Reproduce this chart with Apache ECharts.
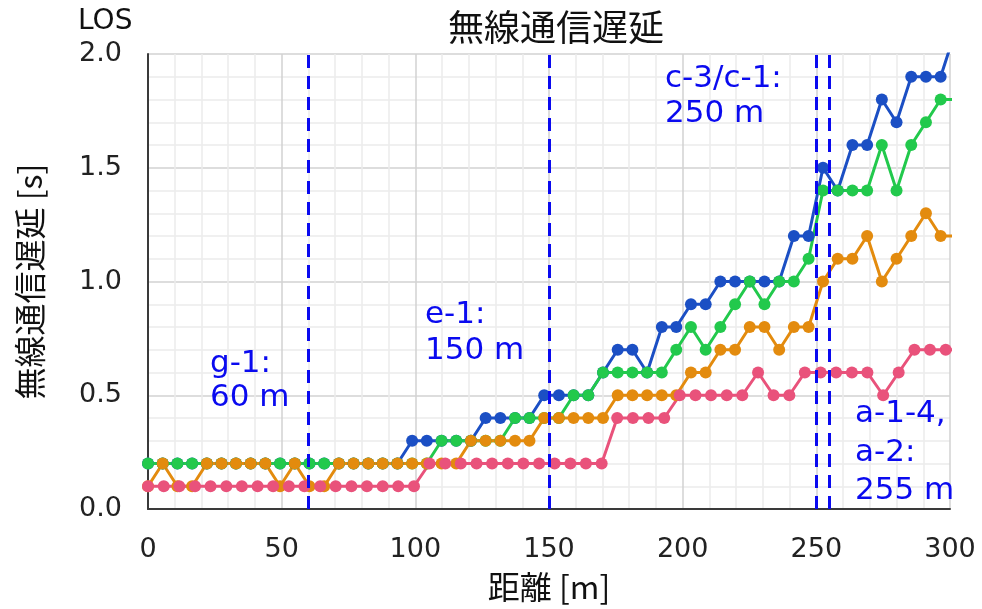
<!DOCTYPE html>
<html>
<head>
<meta charset="utf-8">
<script src="https://cdn.jsdelivr.net/npm/echarts@6/dist/echarts.min.js"></script>
<style>
  html, body { margin: 0; padding: 0; background: #ffffff; }
  #chart { width: 982px; height: 609px; }
</style>
</head>
<body>
<div id="chart"></div>
<script>
// Sample distances [m] shared by the blue, green and orange runs
const distance = [0, 5.5, 11.0, 16.5, 22.0, 27.5, 32.9, 38.4, 43.9, 49.4, 54.9, 60.4, 65.9, 71.4,
  76.9, 82.4, 87.8, 93.3, 98.8, 104.3, 109.8, 115.3, 120.8, 126.3, 131.8, 137.3, 142.7, 148.2,
  153.7, 159.2, 164.7, 170.2, 175.7, 181.2, 186.7, 192.2, 197.6, 203.1, 208.6, 214.1, 219.6,
  225.1, 230.6, 236.1, 241.6, 247.1, 252.5, 258.0, 263.5, 269.0, 274.5, 280.0, 285.5, 291.0,
  296.5, 302.0];
// Sample distances [m] of the pink run
const distancePink = [0, 5.9, 11.7, 17.6, 23.4, 29.3, 35.1, 41.0, 46.8, 52.7, 58.5, 64.4, 70.2,
  76.1, 81.9, 87.8, 93.6, 99.5, 105.3, 111.2, 117.0, 122.9, 128.7, 134.6, 140.4, 146.3, 152.1,
  158.0, 163.8, 169.7, 175.5, 181.4, 187.2, 193.1, 198.9, 204.8, 210.6, 216.5, 222.3, 228.2,
  234.0, 239.9, 245.7, 251.6, 257.4, 263.3, 269.1, 275.0, 280.8, 286.7, 292.5, 298.4, 304.2];

// Wireless delay [s]
const delayBlue = [0.2, 0.2, 0.2, 0.2, 0.2, 0.2, 0.2, 0.2, 0.2, 0.2, 0.2, 0.2, 0.2, 0.2, 0.2, 0.2,
  0.2, 0.2, 0.3, 0.3, 0.3, 0.3, 0.3, 0.4, 0.4, 0.4, 0.4, 0.5, 0.5, 0.5, 0.5, 0.6, 0.7, 0.7, 0.6,
  0.8, 0.8, 0.9, 0.9, 1.0, 1.0, 1.0, 1.0, 1.0, 1.2, 1.2, 1.5, 1.4, 1.6, 1.6, 1.8, 1.7, 1.9, 1.9,
  1.9, 2.1];
const delayGreen = [0.2, 0.2, 0.2, 0.2, 0.2, 0.2, 0.2, 0.2, 0.2, 0.2, 0.2, 0.2, 0.2, 0.2, 0.2, 0.2,
  0.2, 0.2, 0.2, 0.2, 0.3, 0.3, 0.3, 0.3, 0.3, 0.4, 0.4, 0.4, 0.4, 0.5, 0.5, 0.6, 0.6, 0.6, 0.6,
  0.6, 0.7, 0.8, 0.7, 0.8, 0.9, 1.0, 0.9, 1.0, 1.0, 1.1, 1.4, 1.4, 1.4, 1.4, 1.6, 1.4, 1.6, 1.7,
  1.8, 1.8];
const delayOrange = [0.1, 0.2, 0.1, 0.1, 0.2, 0.2, 0.2, 0.2, 0.2, 0.1, 0.2, 0.1, 0.1, 0.2, 0.2, 0.2,
  0.2, 0.2, 0.2, 0.2, 0.2, 0.2, 0.3, 0.3, 0.3, 0.3, 0.3, 0.4, 0.4, 0.4, 0.4, 0.4, 0.5, 0.5, 0.5,
  0.5, 0.5, 0.6, 0.6, 0.7, 0.7, 0.8, 0.8, 0.7, 0.8, 0.8, 1.0, 1.1, 1.1, 1.2, 1.0, 1.1, 1.2, 1.3,
  1.2, 1.2];
const delayPink = [0.1, 0.1, 0.1, 0.1, 0.1, 0.1, 0.1, 0.1, 0.1, 0.1, 0.1, 0.1, 0.1, 0.1, 0.1, 0.1,
  0.1, 0.1, 0.2, 0.2, 0.2, 0.2, 0.2, 0.2, 0.2, 0.2, 0.2, 0.2, 0.2, 0.2, 0.4, 0.4, 0.4, 0.4, 0.5,
  0.5, 0.5, 0.5, 0.5, 0.6, 0.5, 0.5, 0.6, 0.6, 0.6, 0.6, 0.6, 0.5, 0.6, 0.7, 0.7, 0.7, 0.7];

// Reference positions marked with dashed lines [m]
const markerDistances = [60, 150, 250, 255];
const markerLabels = [
  ['g-1:', '60 m'],
  ['e-1:', '150 m'],
  ['c-3/c-1:', '250 m'],
  ['a-1-4,', 'a-2:', '255 m']
];

const yTicks = ['0.0', '0.5', '1.0', '1.5', '2.0'];

const LATIN = '"DejaVu Sans", Verdana, sans-serif';
const CJK = '"Noto Sans CJK JP", sans-serif';
const MARK_BLUE = '#0a0aef';

function pairs(xs, ys) {
  return ys.map((v, i) => [xs[i], v]);
}

function lineSeries(name, color, xs, ys) {
  return {
    name: name,
    type: 'line',
    data: pairs(xs, ys),
    symbol: 'circle',
    symbolSize: 12,
    showSymbol: true,
    clip: true,
    lineStyle: { color: color, width: 3 },
    itemStyle: { color: color },
    emphasis: { disabled: true }
  };
}

const chart = echarts.init(document.getElementById('chart'), null, { renderer: 'canvas' });

// Label text blocks: left x and the vertical centre of each line (pixels)
const labelLayout = [
  { left: 210, lines: [367, 401] },
  { left: 425, lines: [318, 354] },
  { left: 665, lines: [82, 117] },
  { left: 855, lines: [417, 456, 494] }
];
const labelGraphics = [];
markerLabels.forEach((lines, k) => {
  lines.forEach((t, j) => {
    labelGraphics.push({
      type: 'text',
      left: labelLayout[k].left,
      top: labelLayout[k].lines[j] - 19,
      z: 100,
      style: {
        text: t,
        font: '31px ' + LATIN,
        fill: MARK_BLUE,
        textVerticalAlign: 'top'
      }
    });
  });
});

const option = {
  animation: false,
  backgroundColor: '#ffffff',
  title: {
    text: '無線通信遅延',
    left: 551,
    top: 4,
    textAlign: 'center',
    textStyle: { fontFamily: CJK, fontSize: 36, fontWeight: 'normal', color: '#111' }
  },
  grid: { left: 148, right: 32, top: 54, bottom: 100, containLabel: false },
  xAxis: {
    type: 'value',
    min: 0,
    max: 300,
    interval: 50,
    name: '距離 [m]',
    nameLocation: 'middle',
    nameGap: 62,
    nameTextStyle: { fontFamily: CJK, fontSize: 32, color: '#111' },
    axisLine: { show: true, onZero: false, lineStyle: { color: '#3a3a3a', width: 2 } },
    axisTick: { show: false },
    axisLabel: { fontFamily: LATIN, fontSize: 27, color: '#222', margin: 27 },
    splitLine: { show: true, lineStyle: { color: '#d2d2d2', width: 1.5 } },
    minorTick: { show: false, splitNumber: 5 },
    minorSplitLine: { show: true, lineStyle: { color: '#ececec', width: 1.5 } }
  },
  yAxis: {
    type: 'value',
    min: 0,
    max: 2,
    interval: 0.5,
    name: '無線通信遅延 [s]',
    nameLocation: 'middle',
    nameRotate: 90,
    nameGap: 102,
    nameTextStyle: { fontFamily: CJK, fontSize: 32, color: '#111' },
    axisLine: { show: true, lineStyle: { color: '#3a3a3a', width: 2 } },
    axisTick: { show: false },
    axisLabel: {
      fontFamily: LATIN, fontSize: 27, color: '#222', margin: 26,
      formatter: (v) => yTicks[Math.round(v / 0.5)]
    },
    splitLine: { show: true, lineStyle: { color: '#d2d2d2', width: 1.5 } },
    minorTick: { show: false, splitNumber: 5 },
    minorSplitLine: { show: true, lineStyle: { color: '#ececec', width: 1.5 } }
  },
  graphic: [
    {
      type: 'text',
      left: 78,
      top: 8,
      style: { text: 'LOS', font: '28px ' + LATIN, fill: '#111' }
    }
  ].concat(labelGraphics),
  series: [
    lineSeries('blue', '#1b4fc4', distance, delayBlue),
    lineSeries('green', '#22c94c', distance, delayGreen),
    lineSeries('orange', '#e38b0e', distance, delayOrange),
    lineSeries('pink', '#e9527b', distancePink, delayPink),
    {
      name: 'markers',
      type: 'line',
      data: [],
      markLine: {
        silent: true,
        symbol: ['none', 'none'],
        label: { show: false },
        animation: false,
        lineStyle: { color: MARK_BLUE, width: 3, type: [13, 8] },
        data: markerDistances.map((d) => ({ xAxis: d }))
      },
      z: 10
    }
  ]
};

chart.setOption(option);
</script>
</body>
</html>
